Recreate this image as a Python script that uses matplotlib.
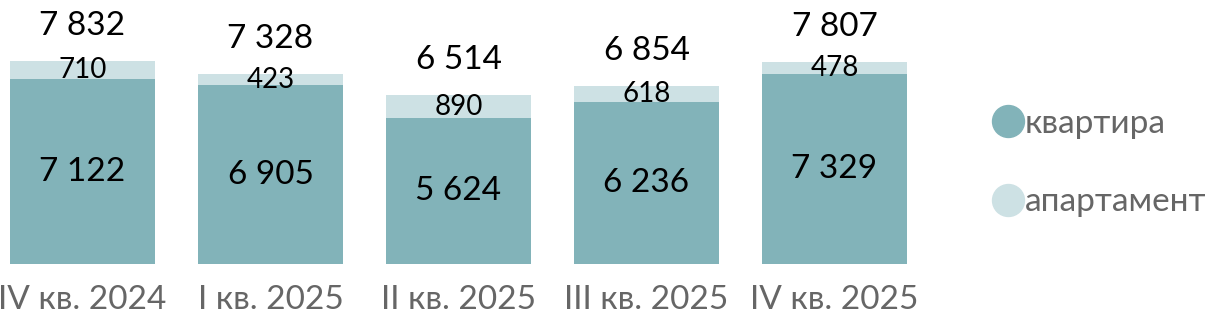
import numpy as np
import matplotlib.pyplot as plt
from matplotlib.lines import Line2D

plt.rcParams['font.family'] = ['Lato', 'DejaVu Sans']

# data
quarters = ['IV кв. 2024', 'I кв. 2025', 'II кв. 2025', 'III кв. 2025', 'IV кв. 2025']
flats = [7122, 6905, 5624, 6236, 7329]
apartments = [710, 423, 890, 618, 478]
series_names = ['квартира', 'апартамент']

c_flat = '#82b3b9'
c_apt = '#cde1e4'

W, H = 1214, 319
fig = plt.figure(figsize=(W / 100, H / 100), dpi=100)
base_px = 264
ax = fig.add_axes([0, (H - base_px) / H, 1, base_px / H])

x = np.arange(len(quarters))
flats = np.array(flats)
apartments = np.array(apartments)
totals = flats + apartments

ax.bar(x, flats, width=0.77, color=c_flat)
ax.bar(x, apartments, width=0.77, bottom=flats, color=c_apt)

for xi, f, a, t in zip(x, flats, apartments, totals):
    ax.text(xi, f / 2, f'{f:,}'.replace(',', ' '), ha='center', va='center', fontsize=24, color='black')
    ax.text(xi, f + a / 2, f'{a}', ha='center', va='center', fontsize=20, color='black')
    ax.annotate(f'{t:,}'.replace(',', ' '), (xi, t), xytext=(0, 35), textcoords='offset pixels',
                ha='center', va='center', fontsize=24, color='black')

ax.set_xlim(-82.5 / 188, (W - 82.5) / 188)
ax.set_ylim(0, base_px / 0.02592)
ax.set_xticks(x)
ax.set_xticklabels(quarters, fontsize=24, color='#666666')
ax.tick_params(axis='x', length=0, pad=15)
ax.set_yticks([])
for s in ax.spines.values():
    s.set_visible(False)

handles = [Line2D([], [], marker='o', linestyle='none', markersize=23, color=c_flat),
           Line2D([], [], marker='o', linestyle='none', markersize=23, color=c_apt)]
fig.legend(handles, series_names, loc='center left', bbox_to_anchor=(968 / W, 1 - 163 / H),
           frameon=False, fontsize=24, labelcolor='#666666', handletextpad=0.0,
           labelspacing=1.45, handlelength=1.0, borderpad=0.2)

fig.savefig('out.png', dpi=100)
